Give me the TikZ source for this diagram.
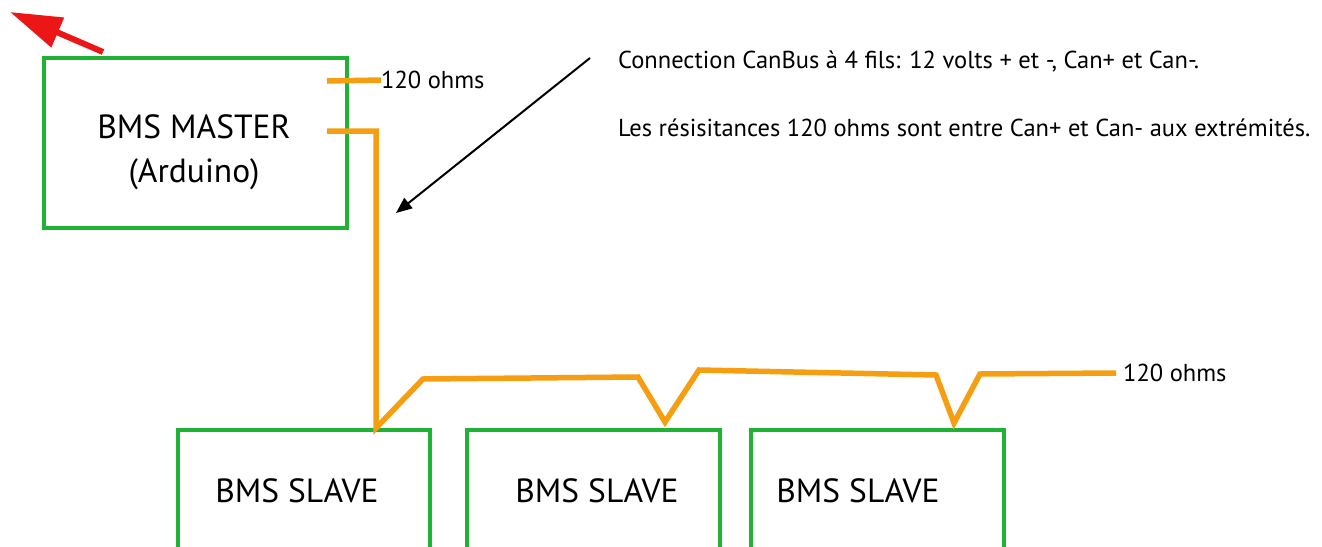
\documentclass[tikz,border=0pt]{standalone}
\usepackage{fontspec}
\setmainfont{PT Sans}
\usetikzlibrary{arrows.meta}
\definecolor{boxgreen}{RGB}{32,178,52}
\definecolor{busorange}{RGB}{245,158,18}
\definecolor{arrred}{RGB}{236,22,22}
\tikzset{
  unitbox/.style={draw=boxgreen, line width=4pt, inner sep=0pt, outer sep=0pt},
  bigtxt/.style={inner sep=0pt, font=\fontsize{33.5}{44}\selectfont, align=center},
  smalltxt/.style={inner sep=0pt, font=\fontsize{24.5}{28}\selectfont},
  bus/.style={draw=busorange, line width=5.5pt, line join=miter},
  pointer/.style={draw=black, line width=2pt, -{Triangle[length=16pt,width=13pt]}},
  redptr/.style={draw=arrred, line width=6pt, -{Triangle[length=52pt,width=31pt]}}
}
\begin{document}
\begin{tikzpicture}[x=1pt,y=-1pt]
\useasboundingbox (0,0) rectangle (1322,546);
\begin{scope}
\clip (0,0) rectangle (1322,546);
% boxes
\node[unitbox, minimum width=303pt, minimum height=170pt] (m) at (195.5,143) {};
\node[unitbox, minimum width=252pt, minimum height=130pt] (s1) at (304,495) {};
\node[unitbox, minimum width=253pt, minimum height=130pt] (s2) at (593.5,495) {};
\node[unitbox, minimum width=253pt, minimum height=130pt] (s3) at (877.5,495) {};
% labels
\node[bigtxt] (mt) at (194,152.5) {BMS MASTER\\(Arduino)};
\node[bigtxt] (l1) at (297,491) {BMS SLAVE};
\node[bigtxt] (l2) at (597,491) {BMS SLAVE};
\node[bigtxt] (l3) at (858,491) {BMS SLAVE};
\node[smalltxt, anchor=west] (r1) at (381,80) {120 ohms};
\node[smalltxt, anchor=west] (r2) at (1123,373) {120 ohms};
\node[smalltxt, anchor=west] (t1) at (618,62) {Connection CanBus à 4 fils: 12 volts + et -, Can+ et Can-.};
\node[smalltxt, anchor=west] (t2) at (618,128) {Les résisitances 120 ohms sont entre Can+ et Can- aux extrémités.};
% bus coordinates
\coordinate (a1) at (327,81);
\coordinate (b1) at (327,131);
\coordinate (b2) at (376,131);
\coordinate (p1) at (376,428);
\coordinate (p2) at (423,379);
\coordinate (p3) at (638,377);
\coordinate (p4) at (665,422);
\coordinate (p5) at (699,370);
\coordinate (p6) at (936,375);
\coordinate (p7) at (954,423);
\coordinate (p8) at (980,374);
\coordinate (p9) at (1116,373);
% bus
\draw[bus] (a1) -- (r1.west);
\draw[bus] (b1) -- (b2) -- (p1) -- (p2) -- (p3) -- (p4) -- (p5) -- (p6) -- (p7) -- (p8) -- (p9);
% arrows
\coordinate (ka) at (590,58);
\coordinate (kb) at (396,213);
\draw[pointer] (ka) -- (kb);
\coordinate (ra) at (103,52);
\coordinate (rb) at (10,12);
\draw[redptr] (ra) -- (rb);
\end{scope}
\end{tikzpicture}
\end{document}
